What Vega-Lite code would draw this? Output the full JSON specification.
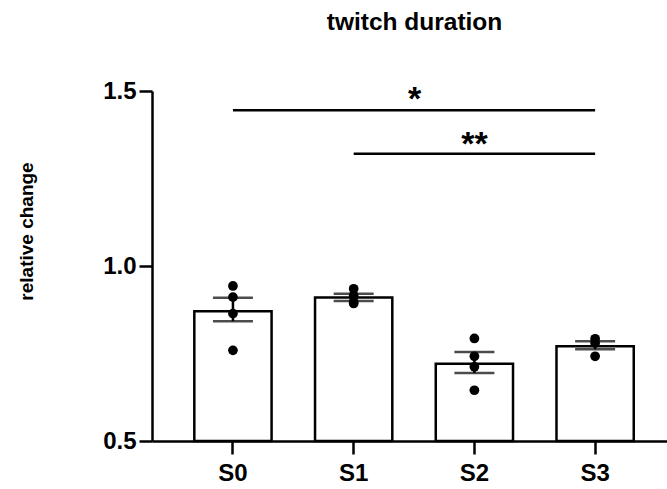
{
  "$schema": "https://vega.github.io/schema/vega-lite/v6.json",
  "width": 515,
  "height": 350,
  "autosize": {"type": "none"},
  "padding": {"left": 152, "top": 91, "right": 0, "bottom": 48},
  "config": {
    "font": "Liberation Sans",
    "view": {"stroke": null},
    "axis": {
      "domainColor": "black", "domainWidth": 2.5, "tickColor": "black", "tickWidth": 2.5,
      "tickSize": 13, "labelColor": "black", "labelFont": "Liberation Sans", "labelFontWeight": "bold",
      "labelFontSize": 24, "grid": false, "titleColor": "black"
    }
  },
  "title": {
    "text": "twitch duration", "fontSize": 24.5, "fontWeight": "bold", "color": "black",
    "anchor": "middle", "frame": "group", "offset": 44, "dx": 5
  },
  "datasets": {
    "bars": [
      {"group": "S0", "mean": 0.871, "lo": 0.842, "hi": 0.909},
      {"group": "S1", "mean": 0.910, "lo": 0.900, "hi": 0.921},
      {"group": "S2", "mean": 0.721, "lo": 0.694, "hi": 0.754},
      {"group": "S3", "mean": 0.771, "lo": 0.762, "hi": 0.785}
    ],
    "points": [
      {"group": "S0", "value": 0.943}, {"group": "S0", "value": 0.911},
      {"group": "S0", "value": 0.864}, {"group": "S0", "value": 0.759},
      {"group": "S1", "value": 0.935}, {"group": "S1", "value": 0.915},
      {"group": "S1", "value": 0.898}, {"group": "S1", "value": 0.893},
      {"group": "S2", "value": 0.793}, {"group": "S2", "value": 0.742},
      {"group": "S2", "value": 0.712}, {"group": "S2", "value": 0.645},
      {"group": "S3", "value": 0.792}, {"group": "S3", "value": 0.780},
      {"group": "S3", "value": 0.742}
    ],
    "sig": [
      {"from": "S0", "to": "S3", "y": 1.445, "label": "*", "labelX": "S1", "labelY": 1.446},
      {"from": "S1", "to": "S3", "y": 1.321, "label": "**", "labelX": "S2", "labelY": 1.318}
    ]
  },
  "layer": [
    {
      "data": {"name": "bars"},
      "mark": {"type": "bar", "fill": "white", "stroke": "black", "strokeWidth": 2.5},
      "encoding": {
        "x": {
          "field": "group", "type": "nominal",
          "scale": {"domain": ["S0", "S1", "S2", "S3"], "paddingInner": 0.36, "paddingOuter": 0.313, "align": 0.56},
          "axis": {"title": null, "labelAngle": 0, "labelPadding": 7, "labelBaseline": "top"}
        },
        "y": {
          "field": "mean", "type": "quantitative",
          "scale": {"domain": [0.5, 1.5], "zero": false, "nice": false},
          "axis": {
            "values": [0.5, 1.0, 1.5], "format": ".1f", "labelPadding": 3,
            "title": "relative change", "titleFontSize": 19, "titleFontWeight": "bold",
            "titleX": -126, "titleY": 140, "titleAngle": -90, "titleBaseline": "middle", "titleAlign": "center"
          }
        },
        "y2": {"datum": 0.5}
      }
    },
    {
      "data": {"name": "bars"},
      "mark": {"type": "rule", "color": "black", "strokeWidth": 2.5},
      "encoding": {
        "x": {"field": "group", "type": "nominal"},
        "y": {"field": "lo", "type": "quantitative"},
        "y2": {"field": "hi"}
      }
    },
    {
      "data": {"name": "bars"},
      "mark": {"type": "tick", "color": "black", "thickness": 2.5, "size": 40},
      "encoding": {
        "x": {"field": "group", "type": "nominal"},
        "y": {"field": "lo", "type": "quantitative"}
      }
    },
    {
      "data": {"name": "bars"},
      "mark": {"type": "tick", "color": "black", "thickness": 2.5, "size": 40},
      "encoding": {
        "x": {"field": "group", "type": "nominal"},
        "y": {"field": "hi", "type": "quantitative"}
      }
    },
    {
      "data": {"name": "points"},
      "mark": {"type": "circle", "color": "black", "opacity": 1, "size": 95},
      "encoding": {
        "x": {"field": "group", "type": "nominal"},
        "y": {"field": "value", "type": "quantitative"}
      }
    },
    {
      "data": {"name": "sig"},
      "mark": {"type": "rule", "color": "black", "strokeWidth": 2.5},
      "encoding": {
        "x": {"field": "from", "type": "nominal"},
        "x2": {"field": "to"},
        "y": {"field": "y", "type": "quantitative"}
      }
    },
    {
      "data": {"name": "sig"},
      "transform": [{"filter": "datum.label == '*'"}],
      "mark": {"type": "text", "color": "black", "fontSize": 34, "fontWeight": "bold", "baseline": "alphabetic", "dx": 61},
      "encoding": {
        "x": {"field": "labelX", "type": "nominal"},
        "y": {"field": "labelY", "type": "quantitative"},
        "text": {"field": "label"}
      }
    },
    {
      "data": {"name": "sig"},
      "transform": [{"filter": "datum.label == '**'"}],
      "mark": {"type": "text", "color": "black", "fontSize": 34, "fontWeight": "bold", "baseline": "alphabetic"},
      "encoding": {
        "x": {"field": "labelX", "type": "nominal"},
        "y": {"field": "labelY", "type": "quantitative"},
        "text": {"field": "label"}
      }
    }
  ]
}
